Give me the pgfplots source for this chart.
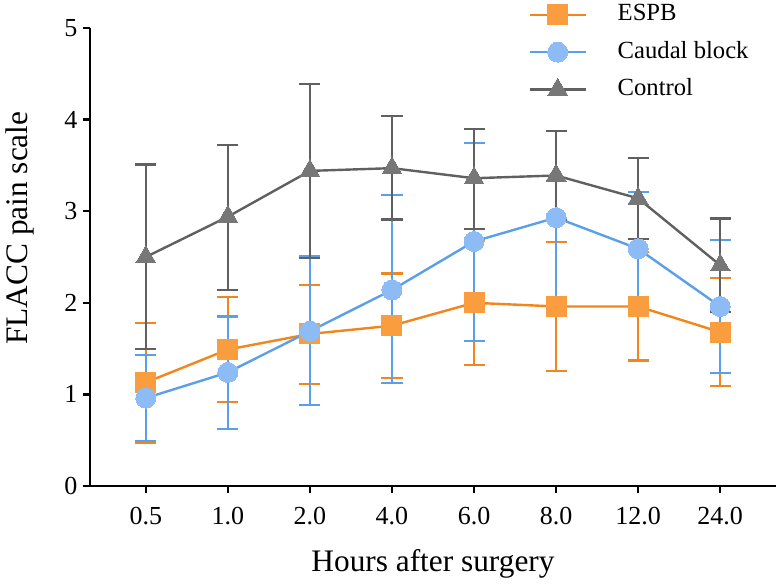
\documentclass[border=0pt]{standalone}
\usepackage{pgfplots}
\pgfplotsset{compat=1.18}
\usepackage{pgfplotstable}
\usepackage{fontspec}
\setmainfont{Liberation Serif}
\definecolor{orL}{HTML}{F2851C}
\definecolor{orF}{HTML}{F99D3E}
\definecolor{blL}{HTML}{5AA0E8}
\definecolor{blF}{HTML}{8DBBF5}
\definecolor{grL}{HTML}{606060}
\definecolor{grF}{HTML}{777777}

\pgfplotstableread{
x y ep em
0 1.13 0.65 0.66
1 1.49 0.57 0.57
2 1.66 0.53 0.55
3 1.75 0.57 0.57
4 2.00 0.68 0.68
5 1.96 0.70 0.70
6 1.96 0.59 0.59
7 1.68 0.59 0.59
}\espb
\pgfplotstableread{
x y ep em
0 0.96 0.47 0.47
1 1.24 0.61 0.62
2 1.69 0.82 0.81
3 2.14 1.04 1.02
4 2.67 1.07 1.09
5 2.93 0.95 0.95
6 2.59 0.62 0.60
7 1.96 0.73 0.73
}\caudal
\pgfplotstableread{
x y ep em
0 2.50 1.01 1.00
1 2.94 0.78 0.80
2 3.44 0.95 0.95
3 3.47 0.57 0.56
4 3.36 0.54 0.55
5 3.39 0.49 0.49
6 3.14 0.44 0.44
7 2.41 0.51 0.51
}\control

\begin{document}
\begin{tikzpicture}
\useasboundingbox (-67.5pt,-75pt) rectangle (517.5pt,364.5pt);
\begin{axis}[
  at={(0pt,0pt)}, anchor=south west,
  scale only axis, width=514.5pt, height=343.5pt,
  xmin=-0.68, xmax=7.68, ymin=0, ymax=5,
  axis x line*=bottom, axis y line*=left,
  axis line style={line width=2.2pt, black},
  xtick={0,...,7},
  xticklabels={0.5,1.0,2.0,4.0,6.0,8.0,12.0,24.0},
  ytick={0,...,5},
  tick align=outside, major tick length=5pt,
  tick style={line width=1.8pt, black},
  tick label style={font=\fontsize{19.5}{22}\selectfont},
  xticklabel style={yshift=-7pt},
  yticklabel style={xshift=-1pt},
  /pgf/number format/assume math mode=true,
  label style={font=\fontsize{23.5}{26}\selectfont},
  xlabel={Hours after surgery},
  ylabel={FLACC pain scale},
  xlabel style={at={(axis description cs:0.5,-0.187)}, anchor=base},
  ylabel style={at={(axis description cs:-0.102,0.563)}, anchor=center},
  clip=false,
  legend style={draw=none, fill=none, at={(axis description cs:0.633,1.06)}, anchor=north west,
    font=\fontsize{18.5}{20}\selectfont, row sep=11pt, column sep=0pt,
    nodes={inner sep=0pt, text height=13pt, text depth=4pt}},
  legend cell align=left,
  legend image code/.code={\draw[mark repeat=2,mark phase=2,#1] plot coordinates {(0pt,0pt)(21pt,0pt)(42pt,0pt)};
    \path[draw=none,fill=none] (0pt,0pt) -- (66pt,0pt);},
]
\addplot[color=orL, line width=1.8pt, mark=square*, mark size=7.5pt,
  mark options={fill=orF, draw=orF, line width=0pt},
  error bars/.cd, y dir=both, y explicit,
  error bar style={line width=1.6pt, color=orL},
  error mark options={rotate=90, mark size=7.9pt, line width=1.6pt, color=orL}]
  table[x=x, y=y, y error plus=ep, y error minus=em] {\espb};
\addlegendentry{ESPB}
\addplot[color=blL, line width=1.8pt, mark=*, mark size=7.5pt,
  mark options={fill=blF, draw=blF, line width=0pt},
  error bars/.cd, y dir=both, y explicit,
  error bar style={line width=1.6pt, color=blL},
  error mark options={rotate=90, mark size=7.9pt, line width=1.6pt, color=blL}]
  table[x=x, y=y, y error plus=ep, y error minus=em] {\caudal};
\addlegendentry{Caudal block}
\addplot[color=grL, line width=1.8pt, mark=triangle*, mark size=8.6pt,
  mark options={fill=grF, draw=grF, line width=0pt},
  error bars/.cd, y dir=both, y explicit,
  error bar style={line width=1.6pt, color=grL},
  error mark options={rotate=90, mark size=7.9pt, line width=1.6pt, color=grL}]
  table[x=x, y=y, y error plus=ep, y error minus=em] {\control};
\addlegendentry{Control}
\end{axis}
\end{tikzpicture}
\end{document}
